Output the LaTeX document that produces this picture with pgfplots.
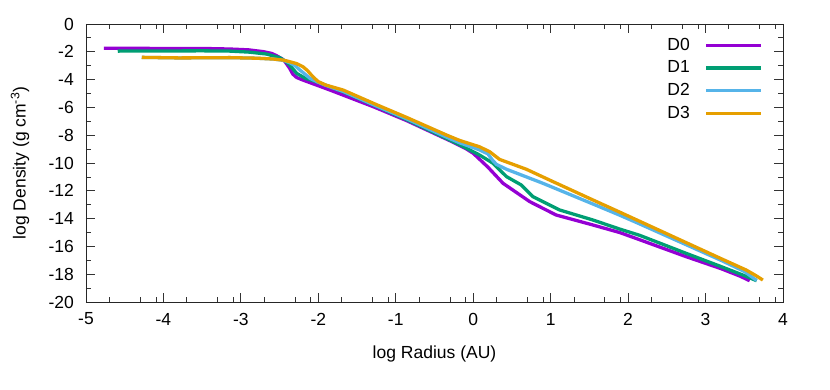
\documentclass[border=0pt]{standalone}
\usepackage{fontspec}
\setmainfont{Liberation Sans}
\usepackage{pgfplots}
\pgfplotsset{compat=1.18}

\definecolor{dzero}{HTML}{9400D3}
\definecolor{done}{HTML}{009E73}
\definecolor{dtwo}{HTML}{56B4E9}
\definecolor{dthree}{HTML}{E69F00}

\begin{document}
\fontsize{17}{20}\selectfont
\begin{tikzpicture}
\useasboundingbox (-86pt,-87pt) rectangle (744pt,302pt);
\begin{axis}[
    at={(0,0)}, anchor=south west,
    scale only axis, width=697pt, height=278pt,
    xmin=-5, xmax=4, ymin=-20, ymax=0,
    xtick={-5,-4,...,4},
    ytick={-20,-18,...,0},
    minor xtick={-4.699,-4.301,-4.097,-3.699,-3.301,-3.097,-2.699,-2.301,-2.097,
                 -1.699,-1.301,-1.097,-0.699,-0.301,-0.097,0.301,0.699,0.903,
                 1.301,1.699,1.903,2.301,2.699,2.903,3.301,3.699,3.903},
    minor ytick={-19,-17,...,-1},
    major tick length=9pt, minor tick length=5pt,
    every tick/.style={black!80, line width=0.8pt},
    axis line style={black!85, line width=0.8pt},
    tick label style={font=\fontsize{17.5}{20}\selectfont},
    /pgf/number format/assume math mode=true,
    xticklabel style={anchor=center, yshift=-17pt},
    yticklabel style={anchor=east, inner sep=0pt, xshift=-12pt},
    every axis x label/.style={at={(axis description cs:0.5,0)}, yshift=-52pt, anchor=center},
    every axis y label/.style={at={(axis description cs:0,0.5)}, xshift=-66pt, rotate=90, anchor=center},
    label style={font=\fontsize{17.5}{20}\selectfont},
    xlabel={log Radius (AU)},
    ylabel={log Density (g cm\textsuperscript{-3})},
    legend style={draw=none, fill=none, at={(axis description cs:0.976,0.965)}, anchor=north east,
        font=\fontsize{17.5}{20}\selectfont, row sep=4pt, nodes={inner sep=2pt}},
    legend cell align=right,
    legend plot pos=right,
    legend image code/.code={\path (0pt,0pt); \draw[#1, line width=3.2pt] (13pt,0pt) -- (68pt,0pt);},
    every axis plot/.append style={line width=3.3pt, line join=round},
]
\addplot[dzero] coordinates {
    (-4.77,-1.74) (-4.0,-1.76) (-3.5,-1.76) (-3.14,-1.80) (-2.9,-1.86)
    (-2.71,-1.99) (-2.6,-2.12) (-2.54,-2.28) (-2.47,-2.5) (-2.43,-2.71)
    (-2.37,-3.19) (-2.33,-3.6) (-2.28,-3.85) (-2.2,-4.03) (-1.85,-4.75)
    (-1.29,-5.95) (-0.86,-6.95) (-0.3,-8.4) (-0.1,-8.95) (0.0,-9.3)
    (0.19,-10.3) (0.385,-11.46) (0.73,-12.78) (1.07,-13.74) (1.546,-14.46)
    (1.89,-15.0) (2.1,-15.42) (2.75,-16.74) (3.2,-17.6) (3.45,-18.15) (3.57,-18.47)
};
\addplot[done] coordinates {
    (-4.59,-1.95) (-4.0,-1.94) (-3.5,-1.93) (-3.14,-1.95) (-2.9,-2.02)
    (-2.67,-2.16) (-2.5,-2.42) (-2.43,-2.65) (-2.37,-2.95) (-2.28,-3.55)
    (-2.17,-3.9) (-2.0,-4.2) (-1.68,-4.88) (-1.25,-5.92) (-0.86,-6.88)
    (-0.34,-8.25) (-0.17,-8.7) (0.08,-9.42) (0.25,-10.0) (0.43,-10.98)
    (0.62,-11.58) (0.77,-12.42) (1.116,-13.38) (1.546,-14.1) (1.89,-14.75)
    (2.148,-15.2) (2.75,-16.5) (3.2,-17.45) (3.5,-18.1) (3.66,-18.47)
};
\addplot[dtwo] coordinates {
    (-4.28,-2.40) (-3.8,-2.44) (-3.14,-2.42) (-2.8,-2.46) (-2.58,-2.52)
    (-2.45,-2.62) (-2.37,-2.78) (-2.3,-3.0) (-2.24,-3.3) (-2.17,-3.62)
    (-2.11,-3.9) (-2.03,-4.12) (-1.9,-4.42) (-1.68,-4.85) (-1.25,-5.9)
    (-0.86,-6.82) (-0.34,-8.15) (-0.174,-8.55) (0.08,-9.05) (0.19,-9.35)
    (0.25,-9.8) (0.3,-10.1) (0.43,-10.45) (0.9,-11.46) (1.546,-12.95)
    (1.89,-13.75) (2.148,-14.38) (2.75,-15.88) (3.2,-17.0) (3.5,-17.8) (3.66,-18.45)
};
\addplot[dthree] coordinates {
    (-4.28,-2.40) (-3.8,-2.44) (-3.14,-2.42) (-2.8,-2.46) (-2.58,-2.52)
    (-2.45,-2.6) (-2.37,-2.71) (-2.28,-2.85) (-2.2,-3.07) (-2.14,-3.35)
    (-2.09,-3.67) (-2.04,-3.95) (-2.0,-4.15) (-1.9,-4.4) (-1.68,-4.75)
    (-1.25,-5.8) (-0.86,-6.72) (-0.34,-8.0) (-0.174,-8.38) (0.08,-8.83)
    (0.213,-9.19) (0.34,-9.74) (0.686,-10.45) (1.03,-11.34) (1.546,-12.66)
    (1.89,-13.53) (2.148,-14.19) (2.75,-15.73) (3.2,-16.88) (3.525,-17.7)
    (3.65,-18.1) (3.74,-18.42)
};
\legend{D0, D1, D2, D3}
\end{axis}
\end{tikzpicture}
\end{document}
